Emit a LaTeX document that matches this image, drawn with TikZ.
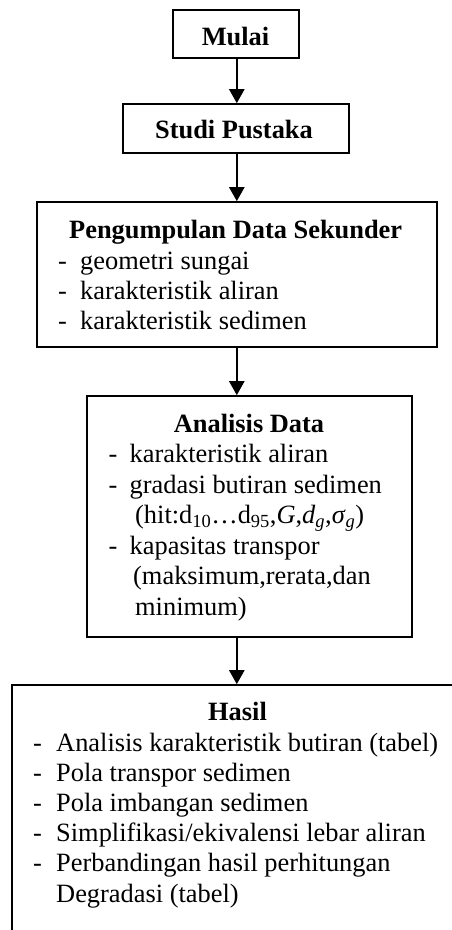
\documentclass[tikz,border=0pt]{standalone}
\usepackage{fontspec}
\setmainfont{Liberation Serif}
\usetikzlibrary{arrows.meta}
\begin{document}
\begin{tikzpicture}[x=1pt,y=-1pt,
  box/.style={draw, line width=1.6pt, rectangle, inner sep=0pt},
  arr/.style={line width=2.4pt, -{Triangle[width=15pt,length=14pt]}},
  ttl/.style={font=\fontsize{26.4}{30}\selectfont\bfseries, inner sep=0pt, anchor=base},
  txt/.style={font=\fontsize{26.4}{30}\selectfont, inner sep=0pt, anchor=base west}]
\clip (0,0) rectangle (452,930);
\fill[white] (0,0) rectangle (452,930);

% boxes
\node[box, minimum width=126pt, minimum height=48pt] (mulai) at (236,34) {};
\node[box, minimum width=226pt, minimum height=49pt] (studi) at (236,128.5) {};
\node[box, minimum width=400pt, minimum height=145pt] (kumpul) at (237,274.5) {};
\node[box, minimum width=325pt, minimum height=241pt] (analisis) at (249.5,516.5) {};
\node[box, minimum width=488pt, minimum height=315pt] (hasil) at (256,842.5) {};
\coordinate (axis) at (236.8,0);

% connectors
\draw[arr] (mulai.south -| axis) -- (studi.north -| axis);
\draw[arr] (studi.south -| axis) -- (kumpul.north -| axis);
\draw[arr] (kumpul.south -| axis) -- (analisis.north -| axis);
\draw[arr] (analisis.south -| axis) -- (hasil.north -| axis);

% titles
\node[ttl] (tmulai) at (235.5,45) {Mulai};
\node[ttl] (tstudi) at (234,138) {Studi Pustaka};
\node[ttl] (tkumpul) at (235.7,238) {Pengumpulan Data Sekunder};
\node[ttl] (tanalisis) at (249,432) {Analisis Data};
\node[ttl] (thasil) at (237.5,720) {Hasil};

% data collection items
\foreach \y/\s [count=\i] in {269/geometri sungai,299/karakteristik aliran,329/karakteristik sedimen}{
  \node[txt] (kd\i) at (58,\y) {-};
  \node[txt] (kt\i) at (80,\y) {\s};
}

% analysis items
\node[txt] (ad1) at (108.5,462.5) {-};
\node[txt] (at1) at (129.5,462.5) {karakteristik aliran};
\node[txt] (ad2) at (108.5,493) {-};
\node[txt] (at2) at (129.5,493) {gradasi butiran sedimen};
\node[txt] (at3) at (135,523.5) {(hit:d\textsubscript{10}…d\textsubscript{95},\textit{G},\textit{d}\textsubscript{\textit{g}},\textit{σ}\textsubscript{\textit{g}})};
\node[txt] (ad4) at (108.5,554) {-};
\node[txt] (at4) at (129.5,554) {kapasitas transpor};
\node[txt] (at5) at (133,584.5) {(maksimum,rerata,dan};
\node[txt] (at6) at (135,615) {minimum)};

% result items
\foreach \y [count=\i] in {751.7,781.7,811.7,841.7,871.7}{
  \node[txt] (hd\i) at (33,\y) {-};
}
\node[txt] (ht1) at (56,751.7) {Analisis karakteristik butiran (tabel)};
\node[txt] (ht2) at (56,781.7) {Pola transpor sedimen};
\node[txt] (ht3) at (56,811.7) {Pola imbangan sedimen};
\node[txt] (ht4) at (56,841.7) {Simplifikasi/ekivalensi lebar aliran};
\node[txt] (ht5) at (56,871.7) {Perbandingan hasil perhitungan};
\node[txt] (ht6) at (56,902.7) {Degradasi (tabel)};
\end{tikzpicture}
\end{document}
